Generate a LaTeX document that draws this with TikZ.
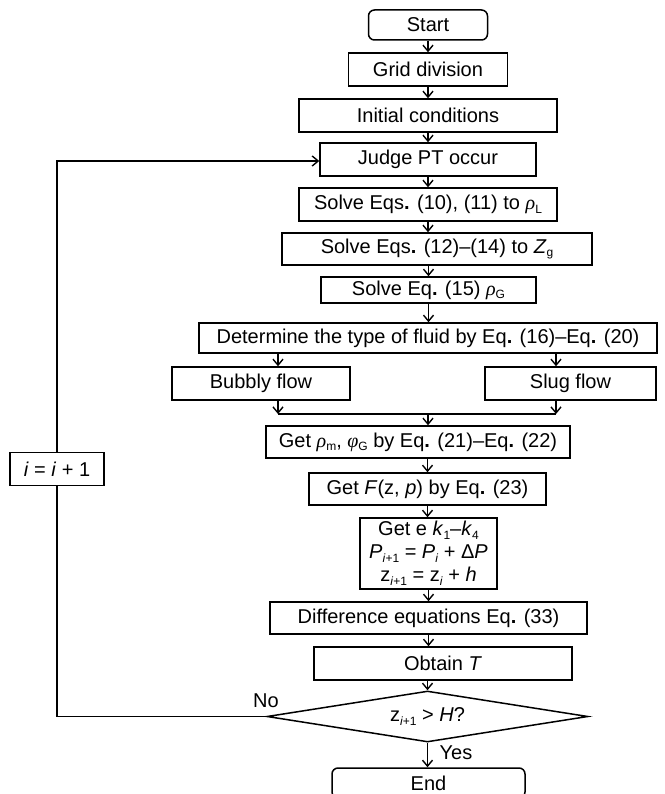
\documentclass[tikz,border=0pt]{standalone}
\usepackage{fontspec}
\setmainfont{Liberation Sans}
\newfontfamily\grkfont{Liberation Serif}
\usetikzlibrary{arrows.meta,shapes.geometric}
\newcommand\gk[1]{{\grkfont\itshape #1}}
\newcommand\sbs[1]{\raisebox{-0.35ex}{\fontsize{12}{12}\selectfont #1}}
\newcommand\pd{\textbf{.}}
\begin{document}
\begin{tikzpicture}[x=1pt,y=-1pt,
  every node/.style={font=\fontsize{20}{23}\selectfont},
  box/.style={draw, line width=1.5pt, inner sep=0pt, align=center},
  arr/.style={line width=1.5pt, -{Straight Barb[length=6pt,width=10pt,line width=1.4pt]}},
  ln/.style={line width=1.5pt},
  lbl/.style={inner sep=0pt}]
\useasboundingbox (0,0) rectangle (664,794);

\node[box, rounded corners=6pt, minimum width=119pt, minimum height=30pt] (start) at (428,25) {Start};
\node[box, minimum width=159pt, minimum height=33pt] (grid) at (428,69.5) {Grid division};
\node[box, minimum width=258pt, minimum height=33pt] (init) at (428,115.5) {Initial conditions};
\node[box, minimum width=216pt, minimum height=33pt] (judge) at (428,159.5) {Judge PT occur};
\node[box, minimum width=258pt, minimum height=33pt] (s10) at (428,204.5) {Solve Eqs\pd{} (10), (11) to \gk{ρ}\sbs{L}};
\node[box, minimum width=310pt, minimum height=32pt] (s12) at (437,249) {Solve Eqs\pd{} (12)–(14) to \textit{Z}\sbs{g}};
\node[box, minimum width=215pt, minimum height=26pt] (s15) at (428.5,290) {Solve Eq\pd{} (15) \gk{ρ}\sbs{G}};
\node[box, minimum width=458pt, minimum height=30pt] (det) at (428,338) {Determine the type of fluid by Eq\pd{} (16)–Eq\pd{} (20)};
\node[box, minimum width=178pt, minimum height=33pt] (bub) at (261,383.5) {Bubbly flow};
\node[box, minimum width=171pt, minimum height=33pt] (slug) at (570.5,383.5) {Slug flow};
\node[box, minimum width=304pt, minimum height=32pt] (getrho) at (418,442) {Get \gk{ρ}\sbs{m}, \gk{φ}\sbs{G} by Eq\pd{} (21)–Eq\pd{} (22)};
\node[box, minimum width=237pt, minimum height=32pt] (getF) at (427.5,489) {Get \textit{F}(z, \textit{p}) by Eq\pd{} (23)};
\node[box, minimum width=137pt, minimum height=71pt] (gete) at (428.5,553.5) {Get e \textit{k}\sbs{1}–\textit{k}\sbs{4}\\ \textit{P}\sbs{\textit{i}+1} = \textit{P}\sbs{\textit{i}} + Δ\textit{P}\\ z\sbs{\textit{i}+1} = z\sbs{\textit{i}} + \textit{h}};
\node[box, minimum width=317pt, minimum height=32pt] (diff) at (428.5,618) {Difference equations Eq\pd{} (33)};
\node[box, minimum width=258pt, minimum height=33pt] (obt) at (443,663.5) {Obtain \textit{T}};
\node[draw, line width=1.5pt, diamond, aspect=6, inner sep=0pt, minimum width=321pt, minimum height=51pt] (dia) at (427.5,716.5) {z\sbs{\textit{i}+1} > \textit{H}?};
\begin{scope}
\clip (0,0) rectangle (664,794);
\node[box, rounded corners=6pt, minimum width=193pt, minimum height=30pt] (end) at (428.5,783) {End};
\end{scope}
\node[box, minimum width=94pt, minimum height=33pt] (inc) at (57,469) {\textit{i} = \textit{i} + 1};

\node[lbl] (no) at (266,701) {No};
\node[lbl] (yes) at (456,753) {Yes};

\coordinate (bx) at (278,0);
\coordinate (sx) at (556,0);
\coordinate (mL) at (278,414);
\coordinate (mR) at (556,414);
\coordinate (mC) at (428,414);
\coordinate (c1) at (57,716.5);
\coordinate (c2) at (57,161);

\draw[arr] (start.south) -- (start.south |- grid.north);
\draw[arr] (grid.south) -- (grid.south |- init.north);
\draw[arr] (init.south) -- (init.south |- judge.north);
\draw[arr] (judge.south) -- (judge.south |- s10.north);
\draw[arr] (s10.south) -- (s10.south |- s12.north);
\draw[arr] (s15.north |- s12.south) -- (s15.north);
\draw[arr] (s15.south) -- (s15.south |- det.north);
\draw[arr] (bx |- det.south) -- (bx |- bub.north);
\draw[arr] (sx |- det.south) -- (sx |- slug.north);
\draw[arr] (bx |- bub.south) -- (mL);
\draw[arr] (sx |- slug.south) -- (mR);
\draw[ln] (mL) -- (mR);
\draw[arr] (mC) -- (mC |- getrho.north);
\draw[arr] (getF.north |- getrho.south) -- (getF.north);
\draw[arr] (getF.south) -- (getF.south |- gete.north);
\draw[arr] (gete.south) -- (gete.south |- diff.north);
\draw[arr] (diff.south) -- (diff.south |- obt.north);
\draw[arr] (dia.north |- obt.south) -- (dia.north);
\draw[arr] (dia.south) -- (dia.south |- end.north);
\draw[ln] (dia.west) -- (c1) -- (inc.south);
\draw[arr] (inc.north) -- (c2) -- (c2 -| judge.west);
\end{tikzpicture}
\end{document}
